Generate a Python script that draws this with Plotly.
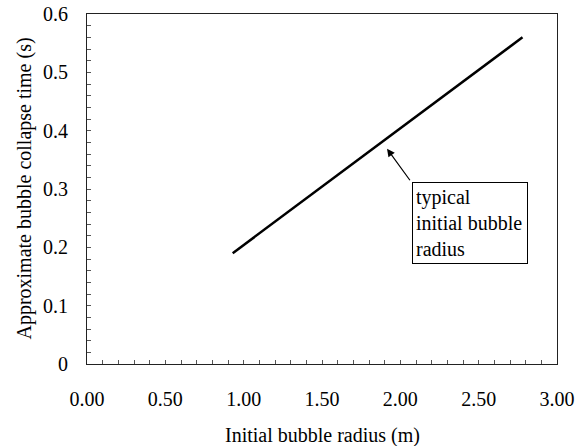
import plotly.graph_objects as go

# Collapse time versus initial bubble radius
radius_m = [0.93, 2.78]
collapse_time_s = [0.19, 0.56]

x_ticks = [0.0, 0.5, 1.0, 1.5, 2.0, 2.5, 3.0]
x_tick_labels = ["0.00", "0.50", "1.00", "1.50", "2.00", "2.50", "3.00"]
y_ticks = [0.0, 0.1, 0.2, 0.3, 0.4, 0.5, 0.6]
y_tick_labels = ["0", "0.1", "0.2", "0.3", "0.4", "0.5", "0.6"]

# point marked as the typical initial radius
typical_radius = 1.915
typical_time = 0.369

FONT = "Liberation Serif, Times New Roman, serif"

fig = go.Figure()
fig.add_trace(go.Scatter(
    x=radius_m, y=collapse_time_s, mode="lines",
    line=dict(color="black", width=2.5), showlegend=False,
))

axis_common = dict(
    showgrid=False, zeroline=False, showline=True, mirror=True,
    linecolor="#222", linewidth=1, automargin=False,
    ticks="inside", ticklen=4, tickcolor="#555", tickwidth=1,
    tickfont=dict(family=FONT, size=20, color="black"),
)

fig.update_xaxes(
    range=[0, 3], tickvals=x_ticks, ticktext=x_tick_labels,
    minor=dict(dtick=0.1, ticks="inside", ticklen=4, tickcolor="#555"),
    ticklabelstandoff=17,
    **axis_common,
)
fig.update_yaxes(
    range=[0, 0.6], tickvals=y_ticks, ticktext=y_tick_labels,
    minor=dict(dtick=0.02, ticks="inside", ticklen=4, tickcolor="#555"),
    ticklabelstandoff=14,
    **axis_common,
)

# arrow pointing at the line
fig.add_annotation(
    x=typical_radius, y=typical_time, xref="x", yref="y",
    ax=24, ay=33, axref="pixel", ayref="pixel",
    text="", showarrow=True, arrowhead=2, arrowsize=1.3,
    arrowwidth=1.2, arrowcolor="black",
)
# callout box
fig.add_annotation(
    x=0.6915, y=0.52, xref="paper", yref="paper",
    xanchor="left", yanchor="top",
    text="typical<br>initial bubble<br>radius",
    showarrow=False, align="left", valign="middle",
    font=dict(family=FONT, size=20, color="black"),
    bordercolor="black", borderwidth=1, borderpad=3,
    width=108, height=74, bgcolor="white",
)

# axis titles
fig.add_annotation(
    x=0.5, y=-0.205, xref="paper", yref="paper",
    xanchor="center", yanchor="middle", showarrow=False,
    text="Initial bubble radius (m)",
    font=dict(family=FONT, size=20, color="black"),
)
fig.add_annotation(
    x=-0.135, y=0.5, xref="paper", yref="paper",
    xanchor="center", yanchor="middle", showarrow=False, textangle=-90,
    text="Approximate bubble collapse time (s)",
    font=dict(family=FONT, size=20, color="black"),
)

fig.update_layout(
    width=576, height=446,
    margin=dict(l=87, r=19, t=14, b=82),
    paper_bgcolor="white", plot_bgcolor="white",
)

fig.write_html("out.html")
